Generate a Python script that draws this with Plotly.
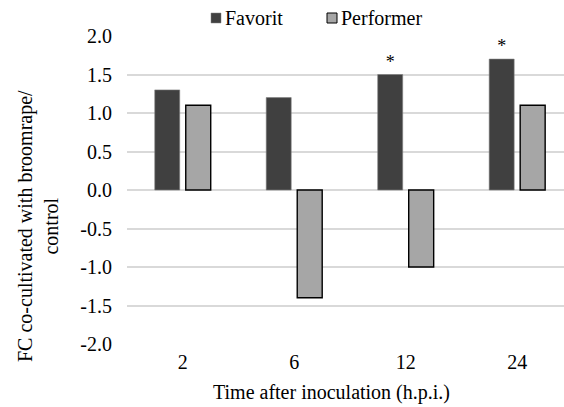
import plotly.graph_objects as go

categories = ["2", "6", "12", "24"]
favorit = [1.3, 1.2, 1.5, 1.7]
performer = [1.1, -1.4, -1.0, 1.1]
favorit_marks = ["", "", "*", "*"]
y_ticks = [-2.0, -1.5, -1.0, -0.5, 0.0, 0.5, 1.0, 1.5, 2.0]
y_tick_labels = ["-2.0", "-1.5", "-1.0", "-0.5", "0.0", "0.5", "1.0", "1.5", "2.0"]
series_names = ["Favorit", "Performer"]
series_colors = ["#404040", "#a6a6a6"]
series_edges = ["#808080", "#000000"]

FONT = "Liberation Serif"
F20 = dict(family=FONT, size=20, color="#000000")

W, H = 564, 407
ML, MR, MT, MB = 127, 0, 36, 63
PW, PH = W - ML - MR, H - MT - MB


def px(x):
    return (x - ML) / PW


def py(y):
    return (H - MB - y) / PH


fig = go.Figure()
fig.add_trace(go.Bar(
    x=categories, y=favorit, name=series_names[0],
    marker=dict(color=series_colors[0], line=dict(color=series_edges[0], width=0.6)),
    text=favorit_marks, textposition="outside", cliponaxis=False,
    textfont=dict(family=FONT, size=18, color="#000000"),
    hoverinfo="skip",
))
fig.add_trace(go.Bar(
    x=categories, y=performer, name=series_names[1],
    marker=dict(color=series_colors[1], line=dict(color=series_edges[1], width=1.4)),
    hoverinfo="skip",
))

fig.update_layout(
    width=W, height=H,
    margin=dict(l=ML, r=MR, t=MT, b=MB),
    paper_bgcolor="white", plot_bgcolor="white",
    font=F20,
    barmode="group", bargap=0.444, bargroupgap=0.194,
    showlegend=False,
)
fig.update_xaxes(
    type="category", range=[-0.5, 3.42],
    showgrid=False, showline=False, zeroline=False,
    ticks="", tickfont=F20, ticklabelstandoff=4,
)
fig.update_yaxes(
    range=[-2.0, 2.0], tickvals=y_ticks, ticktext=y_tick_labels,
    showgrid=True, gridcolor="#d9d9d9", gridwidth=1.5,
    zeroline=True, zerolinecolor="#d9d9d9", zerolinewidth=1.5,
    showline=False, ticks="", tickfont=F20, ticklabelstandoff=14,
)

# axis titles
fig.add_annotation(
    text="Time after inoculation (h.p.i.)",
    xref="paper", yref="paper", x=px(331), y=py(392),
    xanchor="center", yanchor="middle", showarrow=False, font=F20,
)
fig.add_annotation(
    text="FC co-cultivated with broomrape/<br>control",
    xref="paper", yref="paper", x=px(38), y=py(226),
    xanchor="center", yanchor="middle", textangle=-90, showarrow=False,
    font=F20, align="center",
)

# legend (Excel style: small square directly before the label)
legend_sq_left = [211, 327]
for name, color, edge, left in zip(series_names, series_colors, series_edges, legend_sq_left):
    fig.add_shape(
        type="rect", xref="paper", yref="paper",
        x0=px(left), x1=px(left + 10), y0=py(23), y1=py(13),
        fillcolor=color, line=dict(color=edge, width=1 if edge == "#000000" else 0.5),
    )
    fig.add_annotation(
        text=name, xref="paper", yref="paper", x=px(left + 12), y=py(18),
        xanchor="left", yanchor="middle", showarrow=False, font=F20,
    )

fig.write_html("out.html", config={"displayModeBar": False},
               post_script="document.body.style.margin='0';")
